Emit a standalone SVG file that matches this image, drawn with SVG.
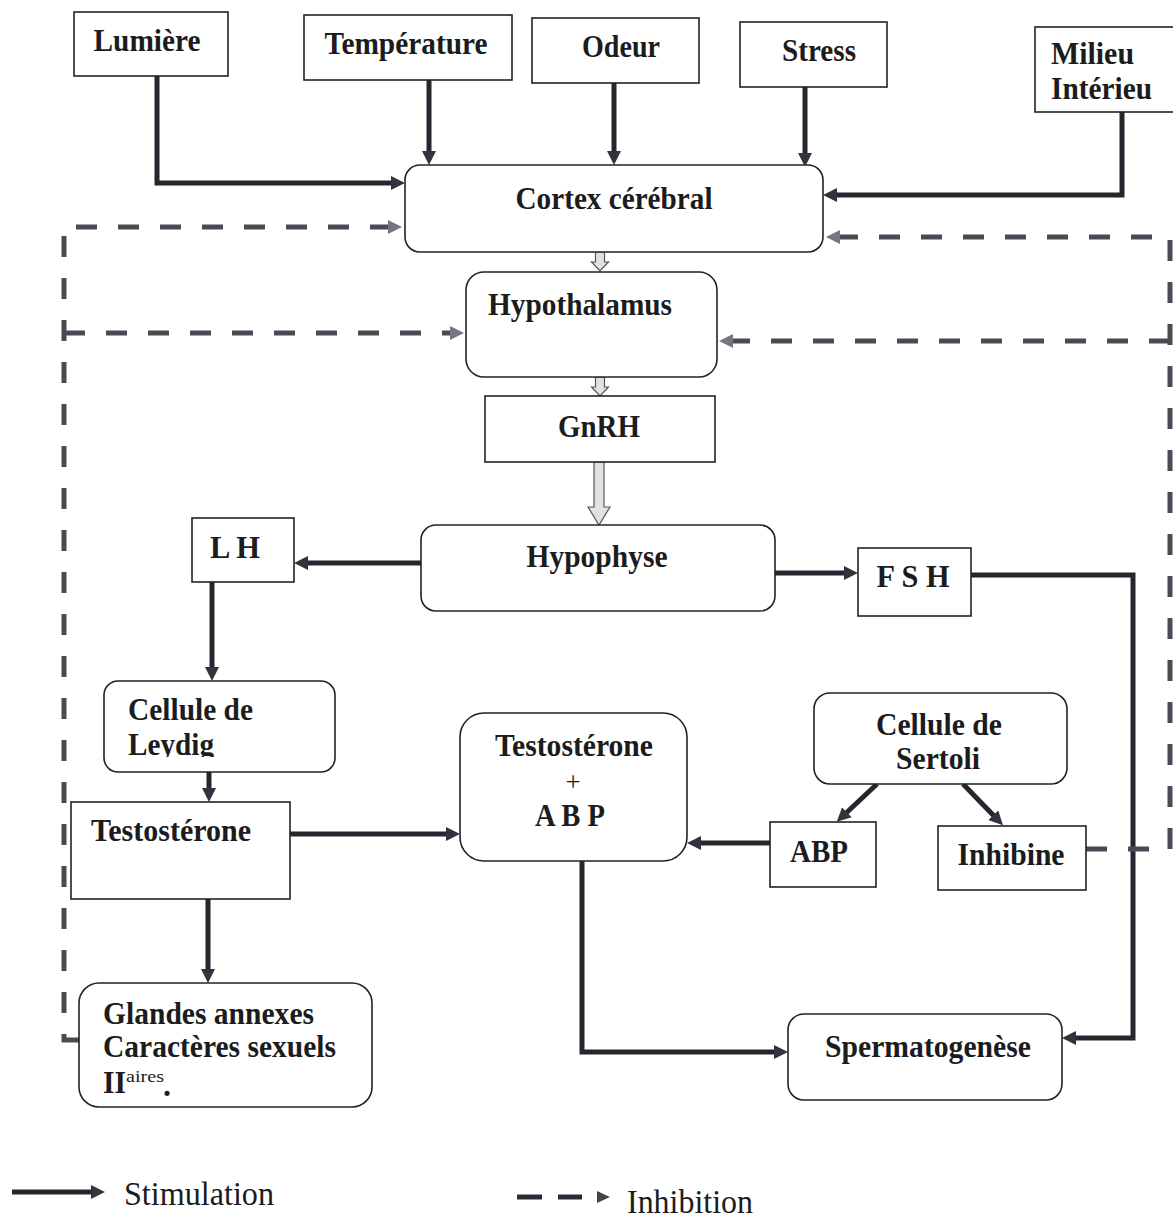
<svg xmlns="http://www.w3.org/2000/svg" width="1173" height="1218" viewBox="0 0 1173 1218">
<style>
.bx{fill:#fff;stroke:#222;stroke-width:1.6}
.t{font-family:"Liberation Serif","Times New Roman",serif;font-weight:bold;font-size:32px;fill:#1c1c1c}
.c{text-anchor:middle}
.lg{font-family:"Liberation Serif","Times New Roman",serif;font-size:34px;fill:#1c1c1c}
.st{fill:none;stroke:#26262e;stroke-width:5}
.da{fill:none;stroke:#4a4a55;stroke-width:5;stroke-dasharray:21 21}
.ho{fill:#e2e2e2;stroke:#555;stroke-width:1.2}
</style>
<defs>
<marker id="s" markerUnits="userSpaceOnUse" markerWidth="16" markerHeight="16" refX="4" refY="7" orient="auto">
<path d="M0,0 L14,7 L0,14 Z" fill="#33333f"/>
</marker>
<marker id="i" markerUnits="userSpaceOnUse" markerWidth="16" markerHeight="16" refX="0" refY="7" orient="auto">
<path d="M0,0 L14,7 L0,14 Z" fill="#76767f"/>
</marker>
<clipPath id="ley"><rect x="100" y="690" width="240" height="67"/></clipPath>
</defs>

<g id="connectors">
<path class="st" d="M157,76 V183 H395" marker-end="url(#s)"/>
<path class="st" d="M429,80 V155" marker-end="url(#s)"/>
<path class="st" d="M614,83 V155" marker-end="url(#s)"/>
<path class="st" d="M805,87 V157" marker-end="url(#s)"/>
<path class="st" d="M1122,112 V195 H833" marker-end="url(#s)"/>
<path class="st" d="M421,563 H304" marker-end="url(#s)"/>
<path class="st" d="M775,573 H848" marker-end="url(#s)"/>
<path class="st" d="M212,582 V671" marker-end="url(#s)"/>
<path class="st" d="M209,772 V792" marker-end="url(#s)"/>
<path class="st" d="M290,834 H450" marker-end="url(#s)"/>
<path class="st" d="M208,899 V973" marker-end="url(#s)"/>
<path class="st" d="M770,843 H697" marker-end="url(#s)"/>
<path class="st" d="M877,784 L844,815" marker-end="url(#s)"/>
<path class="st" d="M963,784 L996,818" marker-end="url(#s)"/>
<path class="st" d="M582,861 V1052 H778" marker-end="url(#s)"/>
<path class="st" d="M971,575 H1133 V1038 H1072" marker-end="url(#s)"/>

<path class="da" d="M79,1040 H64 V227 H388" marker-end="url(#i)"/>
<path class="da" d="M64,333 H450" marker-end="url(#i)"/>
<path class="da" d="M1086,849 H1170 V237 H840" marker-end="url(#i)"/>
<path class="da" d="M1170,341 H733" marker-end="url(#i)"/>

<polygon class="ho" points="595.5,252 604.5,252 604.5,262 608.5,262 600,271 591.5,262 595.5,262"/>
<polygon class="ho" points="595.5,377 604.5,377 604.5,387 608.5,387 600,396 591.5,387 595.5,387"/>
<polygon class="ho" points="594,462 604,462 604,507 610,507 599,525 588,507 594,507"/>
</g>

<g id="lumiere"><rect class="bx" x="74" y="12" width="154" height="64"/><text class="t c" x="147" y="51" textLength="107" lengthAdjust="spacingAndGlyphs">Lumière</text></g>
<g id="temperature"><rect class="bx" x="304" y="15" width="208" height="65"/><text class="t c" x="406" y="54" textLength="163" lengthAdjust="spacingAndGlyphs">Température</text></g>
<g id="odeur"><rect class="bx" x="532" y="18" width="167" height="65"/><text class="t c" x="621" y="57" textLength="78" lengthAdjust="spacingAndGlyphs">Odeur</text></g>
<g id="stress"><rect class="bx" x="740" y="22" width="147" height="65"/><text class="t c" x="819" y="61" textLength="74" lengthAdjust="spacingAndGlyphs">Stress</text></g>
<g id="milieu"><rect class="bx" x="1035" y="27" width="150" height="85"/><text class="t" x="1051" y="64" textLength="83" lengthAdjust="spacingAndGlyphs">Milieu</text><text class="t" x="1051" y="99" textLength="101" lengthAdjust="spacingAndGlyphs">Intérieu</text></g>

<g id="cortex"><rect class="bx" x="405" y="165" width="418" height="87" rx="15"/><text class="t c" x="614" y="209" textLength="197" lengthAdjust="spacingAndGlyphs">Cortex cérébral</text></g>
<g id="hypothalamus"><rect class="bx" x="466" y="272" width="251" height="105" rx="18"/><text class="t c" x="580" y="315" textLength="184" lengthAdjust="spacingAndGlyphs">Hypothalamus</text></g>
<g id="gnrh"><rect class="bx" x="485" y="396" width="230" height="66"/><text class="t c" x="599" y="437" textLength="82" lengthAdjust="spacingAndGlyphs">GnRH</text></g>
<g id="hypophyse"><rect class="bx" x="421" y="525" width="354" height="86" rx="15"/><text class="t c" x="597" y="567" textLength="141" lengthAdjust="spacingAndGlyphs">Hypophyse</text></g>
<g id="lh"><rect class="bx" x="192" y="518" width="102" height="64"/><text class="t c" x="235" y="558" textLength="50" lengthAdjust="spacingAndGlyphs">L H</text></g>
<g id="fsh"><rect class="bx" x="858" y="548" width="113" height="68"/><text class="t c" x="913" y="587" textLength="73" lengthAdjust="spacingAndGlyphs">F S H</text></g>
<g id="leydig"><rect class="bx" x="104" y="681" width="231" height="91" rx="14"/><text class="t" x="128" y="720" textLength="125" lengthAdjust="spacingAndGlyphs">Cellule de</text><text class="t" x="128" y="755" textLength="86" lengthAdjust="spacingAndGlyphs" clip-path="url(#ley)">Leydig</text></g>
<g id="testosterone"><rect class="bx" x="71" y="802" width="219" height="97"/><text class="t" x="91" y="841" textLength="160" lengthAdjust="spacingAndGlyphs">Testostérone</text></g>
<g id="testo-abp"><rect class="bx" x="460" y="713" width="227" height="148" rx="24"/><text class="t c" x="574" y="756" textLength="158" lengthAdjust="spacingAndGlyphs">Testostérone</text><text class="c" x="573" y="791" font-family="Liberation Serif,serif" font-size="27" fill="#1c1c1c">+</text><text class="t c" x="570" y="826" textLength="70" lengthAdjust="spacingAndGlyphs">A B P</text></g>
<g id="sertoli"><rect class="bx" x="814" y="693" width="253" height="91" rx="16"/><text class="t c" x="939" y="735" textLength="126" lengthAdjust="spacingAndGlyphs">Cellule de</text><text class="t c" x="938" y="769" textLength="84" lengthAdjust="spacingAndGlyphs">Sertoli</text></g>
<g id="abp"><rect class="bx" x="770" y="822" width="106" height="65"/><text class="t c" x="819" y="862" textLength="58" lengthAdjust="spacingAndGlyphs">ABP</text></g>
<g id="inhibine"><rect class="bx" x="938" y="826" width="148" height="64"/><text class="t c" x="1011" y="865" textLength="107" lengthAdjust="spacingAndGlyphs">Inhibine</text></g>
<g id="glandes"><rect class="bx" x="79" y="983" width="293" height="124" rx="20"/><text class="t" x="103" y="1024" textLength="211" lengthAdjust="spacingAndGlyphs">Glandes annexes</text><text class="t" x="103" y="1057" textLength="233" lengthAdjust="spacingAndGlyphs">Caractères sexuels</text><text class="t" x="103" y="1093" textLength="23" lengthAdjust="spacingAndGlyphs">II</text><text x="126" y="1082" font-family="Liberation Serif,serif" font-size="16" fill="#1c1c1c" textLength="38" lengthAdjust="spacingAndGlyphs">aires</text><text class="t" x="163" y="1096">.</text></g>
<g id="spermatogenese"><rect class="bx" x="788" y="1014" width="274" height="86" rx="16"/><text class="t c" x="928" y="1057" textLength="206" lengthAdjust="spacingAndGlyphs">Spermatogenèse</text></g>

<g id="legend">
<path class="st" d="M12,1192 H95" marker-end="url(#s)"/>
<text class="lg" x="124" y="1205" textLength="150" lengthAdjust="spacingAndGlyphs">Stimulation</text>
<path d="M517,1197 H542 M558,1197 H582" stroke="#2a2a35" stroke-width="5"/>
<path d="M597,1191 L610,1197 L597,1203 Z" fill="#44444f"/>
<text class="lg" x="627" y="1213" textLength="126" lengthAdjust="spacingAndGlyphs">Inhibition</text>
</g>
</svg>
